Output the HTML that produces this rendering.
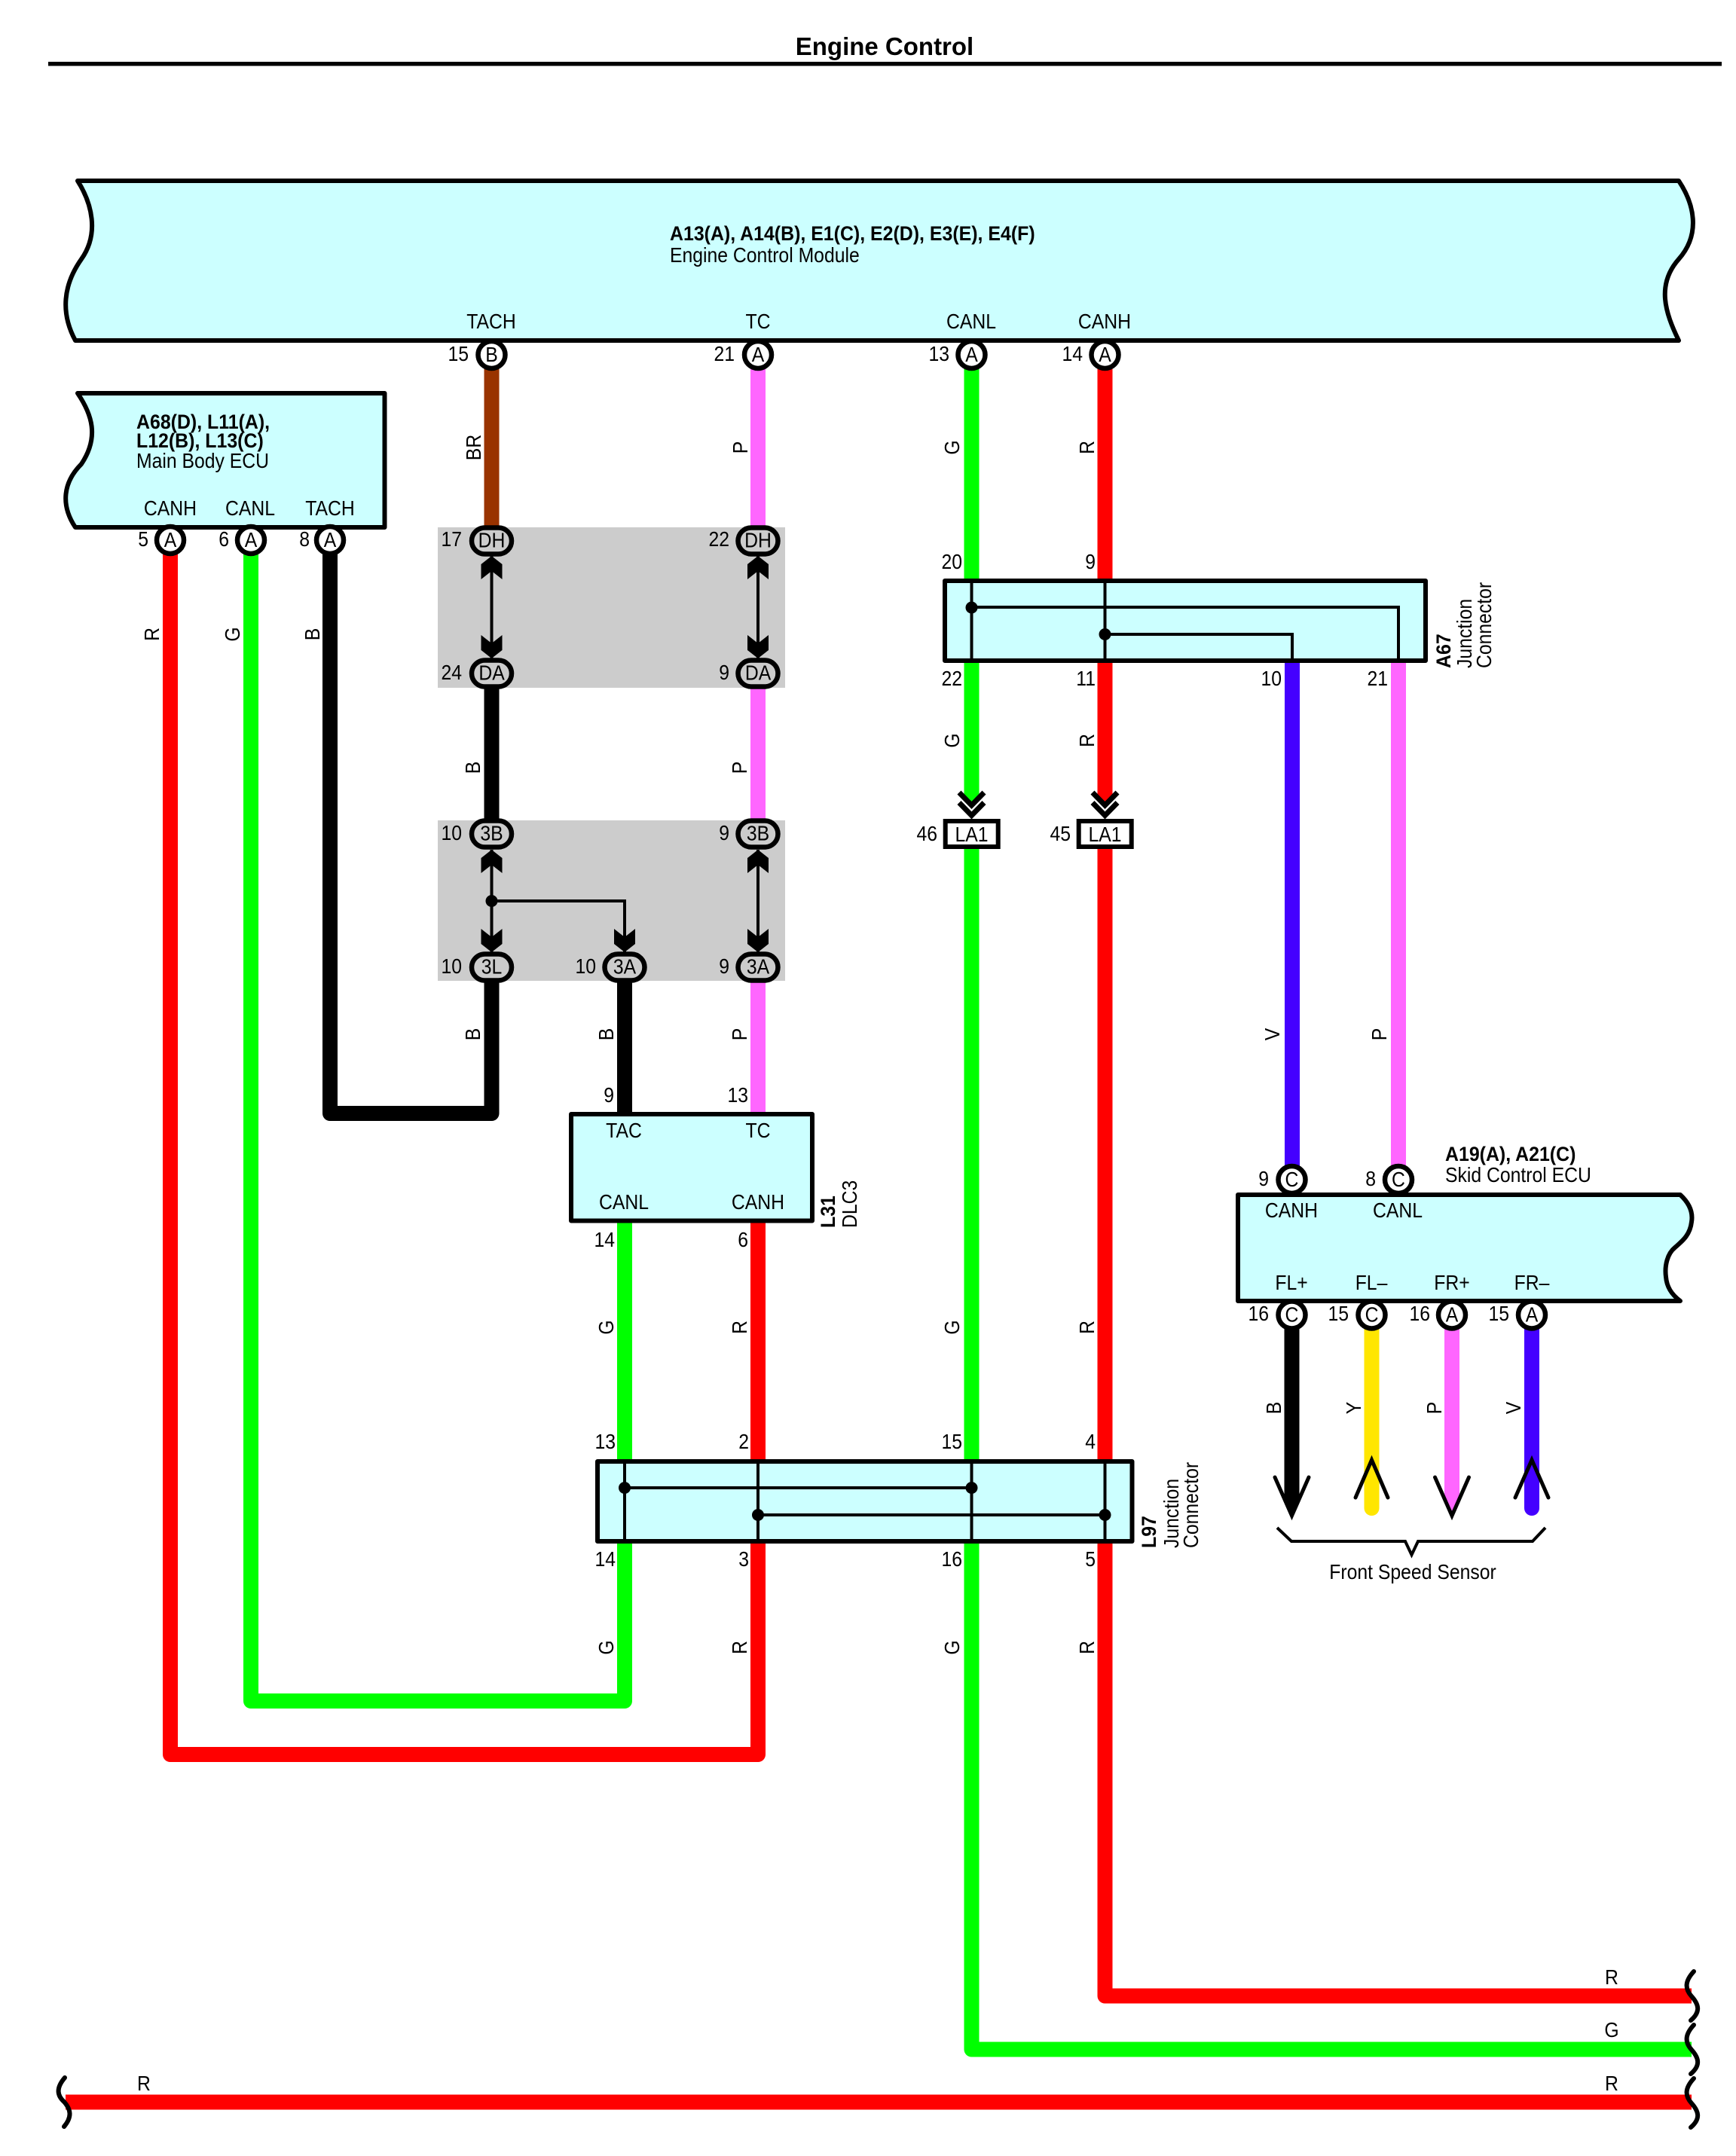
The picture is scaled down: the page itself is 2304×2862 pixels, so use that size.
<!DOCTYPE html>
<html lang="en">
<head>
<meta charset="utf-8">
<title>Engine Control</title>
<style>
html,body{margin:0;padding:0;background:#fff;}
svg{display:block;}
text{font-family:"Liberation Sans",sans-serif;font-size:27.5px;fill:#000;transform-box:fill-box;transform-origin:0 50%;transform:scaleX(.9);}
.b{font-weight:bold;font-size:26.5px;transform:scaleX(.94);}
.e{text-anchor:end;transform-origin:100% 50%;}
.m{text-anchor:middle;transform-origin:50% 50%;}
.w{fill:none;stroke-width:20;stroke-linejoin:round;}
.box{fill:#ccffff;stroke:#000;stroke-width:6;stroke-linejoin:round;}
.t{fill:none;stroke:#000;stroke-width:4;}
.c{fill:#fff;stroke:#000;stroke-width:6.5;}
.o{fill:#ccc;stroke:#000;stroke-width:6.5;}
.ch{fill:none;stroke:#000;stroke-width:7;}
.wv{fill:none;stroke:#000;stroke-width:6;stroke-linecap:round;}
</style>
</head>
<body>
<svg xmlns="http://www.w3.org/2000/svg" width="2304" height="2862" viewBox="0 0 2304 2862">
<rect width="2304" height="2862" fill="#fff"/>

<!-- title -->
<text class="b m" x="1174" y="73" style="font-size:33px;transform:none">Engine Control</text>
<rect x="64" y="82" width="2221" height="5.5" fill="#000"/>

<!-- grey areas -->
<rect x="581" y="700" width="461" height="213" fill="#ccc"/>
<rect x="581" y="1089" width="461" height="213" fill="#ccc"/>

<!-- wires -->
<path class="w" stroke="#993300" d="M652.5 471V717"/>
<path class="w" stroke="#ff66ff" d="M1006 471V717"/>
<path class="w" stroke="#000" d="M652.5 894V1107"/>
<path class="w" stroke="#ff66ff" d="M1006 894V1107"/>
<path class="w" stroke="#ff66ff" d="M1006 1284V1482"/>
<path class="w" stroke="#000" d="M829 1284V1482"/>
<path class="w" stroke="#000" d="M438 717V1478H652.5V1284"/>
<path class="w" stroke="#ff0000" d="M1006 1600V2329H226V717"/>
<path class="w" stroke="#00ff00" d="M829 1600V2258H333V717"/>
<path class="w" stroke="#00ff00" d="M1289.5 471V1050"/>
<path class="w" stroke="#ff0000" d="M1466.5 471V1050"/>
<polygon fill="#00ff00" points="1279.5,1049 1299.5,1049 1299.5,1056 1289.5,1066 1279.5,1056"/>
<polygon fill="#ff0000" points="1456.5,1049 1476.5,1049 1476.5,1056 1466.5,1066 1456.5,1056"/>
<path class="w" stroke="#00ff00" d="M1289.5 1108V2720.5H2245"/>
<path class="w" stroke="#ff0000" d="M1466.5 1108V2649.5H2245"/>
<path class="w" stroke="#ff0000" d="M87 2790.5H2245"/>
<path class="w" stroke="#4400ff" d="M1715 870V1566"/>
<path class="w" stroke="#ff66ff" d="M1856 870V1566"/>

<!-- sensor wires -->
<polygon fill="#000" points="1704.5,1745 1724.5,1745 1724.5,1989 1714.5,2012 1704.5,1989"/>
<polygon fill="#ff66ff" points="1917,1745 1937,1745 1937,1989 1927,2012 1917,1989"/>
<path class="w" stroke="#ffe600" stroke-linecap="round" d="M1820.5 1745V2002"/>
<path class="w" stroke="#4400ff" stroke-linecap="round" d="M2033 1745V2002"/>
<polyline class="ch" stroke-linecap="round" style="stroke-width:5" points="1692,1961 1714.5,2012 1737,1961"/>
<polyline class="ch" stroke-linecap="round" style="stroke-width:5" points="1904.5,1961 1927,2012 1949.5,1961"/>
<polyline class="ch" stroke-linecap="round" style="stroke-width:5" points="1799,1988 1820.5,1938 1842,1988"/>
<polyline class="ch" stroke-linecap="round" style="stroke-width:5" points="2011,1988 2033,1938 2055,1988"/>
<polyline class="t" points="1695,2028 1714,2046 1865,2046 1873.5,2064 1882,2046 2034,2046 2051,2028"/>
<text class="m" x="1875" y="2096">Front Speed Sensor</text>

<!-- ECM -->
<path class="box" d="M103 240H2228C2248 270 2258 310 2228 344C2198 378 2210 415 2228 452H100C80 415 84 378 108 344C132 310 122 270 103 240Z"/>
<text class="b" x="889" y="319">A13(A), A14(B), E1(C), E2(D), E3(E), E4(F)</text>
<text x="889" y="348">Engine Control Module</text>
<text class="m" x="652" y="436">TACH</text>
<text class="m" x="1006" y="436">TC</text>
<text class="m" x="1289" y="436">CANL</text>
<text class="m" x="1466" y="436">CANH</text>

<!-- Main Body ECU -->
<path class="box" d="M103 522H510.5V700H100C80 670 84 640 108 616C132 580 122 550 103 522Z"/>
<text class="b" x="181" y="569">A68(D), L11(A),</text>
<text class="b" x="181" y="594">L12(B), L13(C)</text>
<text x="181" y="621">Main Body ECU</text>
<text class="m" x="226" y="684">CANH</text>
<text class="m" x="332" y="684">CANL</text>
<text class="m" x="438" y="684">TACH</text>

<!-- ECM pins -->
<circle class="c" cx="652.5" cy="471" r="18"/><text class="m" x="652.5" y="480">B</text>
<circle class="c" cx="1006" cy="471" r="18"/><text class="m" x="1006" y="480">A</text>
<circle class="c" cx="1289.5" cy="471" r="18"/><text class="m" x="1289.5" y="480">A</text>
<circle class="c" cx="1466.5" cy="471" r="18"/><text class="m" x="1466.5" y="480">A</text>
<text class="e" x="622" y="479">15</text>
<text class="e" x="975" y="479">21</text>
<text class="e" x="1260" y="479">13</text>
<text class="e" x="1437" y="479">14</text>

<!-- Main Body pins -->
<circle class="c" cx="226" cy="717" r="18"/><text class="m" x="226" y="726">A</text>
<circle class="c" cx="333" cy="717" r="18"/><text class="m" x="333" y="726">A</text>
<circle class="c" cx="438" cy="717" r="18"/><text class="m" x="438" y="726">A</text>
<text class="e" x="197" y="725">5</text>
<text class="e" x="304" y="725">6</text>
<text class="e" x="411" y="725">8</text>

<!-- grey block 1 -->
<line x1="652.5" y1="738" x2="652.5" y2="874" stroke="#000" stroke-width="4"/>
<line x1="1006" y1="738" x2="1006" y2="874" stroke="#000" stroke-width="4"/>
<polygon points="652.5,738 666.5,749 666.5,769 652.5,758 638.5,769 638.5,749"/>
<polygon points="1006,738 1020,749 1020,769 1006,758 992,769 992,749"/>
<polygon points="652.5,874 666.5,863 666.5,843 652.5,854 638.5,843 638.5,863"/>
<polygon points="1006,874 1020,863 1020,843 1006,854 992,843 992,863"/>
<rect class="o" x="626" y="700.5" width="53" height="35" rx="17.5"/><text class="m" x="652.5" y="726.5">DH</text>
<rect class="o" x="979.5" y="700.5" width="53" height="35" rx="17.5"/><text class="m" x="1006" y="726.5">DH</text>
<rect class="o" x="626" y="876.5" width="53" height="35" rx="17.5"/><text class="m" x="652.5" y="902.5">DA</text>
<rect class="o" x="979.5" y="876.5" width="53" height="35" rx="17.5"/><text class="m" x="1006" y="902.5">DA</text>
<text class="e" x="613" y="725">17</text>
<text class="e" x="968" y="725">22</text>
<text class="e" x="613" y="902">24</text>
<text class="e" x="968" y="902">9</text>

<!-- grey block 2 -->
<line x1="652.5" y1="1128" x2="652.5" y2="1264" stroke="#000" stroke-width="4"/>
<line x1="1006" y1="1128" x2="1006" y2="1264" stroke="#000" stroke-width="4"/>
<polyline class="t" points="652.5,1196 829,1196 829,1264"/>
<circle cx="652.5" cy="1196" r="8"/>
<polygon points="652.5,1128 666.5,1139 666.5,1159 652.5,1148 638.5,1159 638.5,1139"/>
<polygon points="1006,1128 1020,1139 1020,1159 1006,1148 992,1159 992,1139"/>
<polygon points="652.5,1264 666.5,1253 666.5,1233 652.5,1244 638.5,1233 638.5,1253"/>
<polygon points="829,1264 843,1253 843,1233 829,1244 815,1233 815,1253"/>
<polygon points="1006,1264 1020,1253 1020,1233 1006,1244 992,1233 992,1253"/>
<rect class="o" x="626" y="1089.5" width="53" height="35" rx="17.5"/><text class="m" x="652.5" y="1115.5">3B</text>
<rect class="o" x="979.5" y="1089.5" width="53" height="35" rx="17.5"/><text class="m" x="1006" y="1115.5">3B</text>
<rect class="o" x="626" y="1266.5" width="53" height="35" rx="17.5"/><text class="m" x="652.5" y="1292.5">3L</text>
<rect class="o" x="802.5" y="1266.5" width="53" height="35" rx="17.5"/><text class="m" x="829" y="1292.5">3A</text>
<rect class="o" x="979.5" y="1266.5" width="53" height="35" rx="17.5"/><text class="m" x="1006" y="1292.5">3A</text>
<text class="e" x="613" y="1115">10</text>
<text class="e" x="968" y="1115">9</text>
<text class="e" x="613" y="1292">10</text>
<text class="e" x="791" y="1292">10</text>
<text class="e" x="968" y="1292">9</text>

<!-- A67 junction -->
<rect class="box" x="1254" y="771" width="638" height="106"/>
<line class="t" x1="1289.5" y1="771" x2="1289.5" y2="877"/>
<line class="t" x1="1466.5" y1="771" x2="1466.5" y2="877"/>
<polyline class="t" points="1289.5,806 1856,806 1856,877"/>
<polyline class="t" points="1466.5,842 1715,842 1715,877"/>
<circle cx="1289.5" cy="806.5" r="8"/>
<circle cx="1466.5" cy="842" r="8"/>
<text class="e" x="1277" y="755">20</text>
<text class="e" x="1454" y="755">9</text>
<text class="e" x="1277" y="910">22</text>
<text class="e" x="1454" y="910">11</text>
<text class="e" x="1701" y="910">10</text>
<text class="e" x="1842" y="910">21</text>
<g transform="translate(1925,887) rotate(-90)"><text class="b">A67</text></g>
<g transform="translate(1953,887) rotate(-90)"><text>Junction</text></g>
<g transform="translate(1979,887) rotate(-90)"><text>Connector</text></g>

<!-- chevrons -->
<polyline class="ch" points="1273,1052 1289.5,1069 1306,1052"/>
<polyline class="ch" points="1273,1065.5 1289.5,1082.5 1306,1065.5"/>
<polyline class="ch" points="1450,1052 1466.5,1069 1483,1052"/>
<polyline class="ch" points="1450,1065.5 1466.5,1082.5 1483,1065.5"/>

<!-- LA1 -->
<rect x="1254.7" y="1090" width="70" height="34" fill="#fff" stroke="#000" stroke-width="6"/>
<rect x="1431.7" y="1090" width="70" height="34" fill="#fff" stroke="#000" stroke-width="6"/>
<text class="m" x="1289.5" y="1117">LA1</text>
<text class="m" x="1466.5" y="1117">LA1</text>
<text class="e" x="1244" y="1116">46</text>
<text class="e" x="1421" y="1116">45</text>

<!-- DLC3 -->
<rect class="box" x="758" y="1479" width="320" height="141.5"/>
<text class="m" x="828" y="1510">TAC</text>
<text class="m" x="1006" y="1510">TC</text>
<text class="m" x="828" y="1605">CANL</text>
<text class="m" x="1006" y="1605">CANH</text>
<text class="e" x="815" y="1463">9</text>
<text class="e" x="993" y="1463">13</text>
<text class="e" x="816" y="1655">14</text>
<text class="e" x="993" y="1655">6</text>
<g transform="translate(1108,1630) rotate(-90)"><text class="b">L31</text></g>
<g transform="translate(1137,1630) rotate(-90)"><text>DLC3</text></g>

<!-- L97 junction -->
<rect class="box" x="793" y="1940" width="709.5" height="106"/>
<line class="t" x1="829" y1="1940" x2="829" y2="2046"/>
<line class="t" x1="1006" y1="1940" x2="1006" y2="2046"/>
<line class="t" x1="1289.5" y1="1940" x2="1289.5" y2="2046"/>
<line class="t" x1="1466.5" y1="1940" x2="1466.5" y2="2046"/>
<line class="t" x1="829" y1="1975" x2="1289.5" y2="1975"/>
<line class="t" x1="1006" y1="2011" x2="1466.5" y2="2011"/>
<circle cx="829" cy="1975" r="8"/><circle cx="1289.5" cy="1975" r="8"/>
<circle cx="1006" cy="2011" r="8"/><circle cx="1466.5" cy="2011" r="8"/>
<text class="e" x="817" y="1923">13</text>
<text class="e" x="994" y="1923">2</text>
<text class="e" x="1277" y="1923">15</text>
<text class="e" x="1454" y="1923">4</text>
<text class="e" x="817" y="2079">14</text>
<text class="e" x="994" y="2079">3</text>
<text class="e" x="1277" y="2079">16</text>
<text class="e" x="1454" y="2079">5</text>
<g transform="translate(1534,2055) rotate(-90)"><text class="b">L97</text></g>
<g transform="translate(1564,2055) rotate(-90)"><text>Junction</text></g>
<g transform="translate(1590,2055) rotate(-90)"><text>Connector</text></g>

<!-- Skid control -->
<path class="box" d="M1643 1586H2230C2243 1598 2247 1610 2245 1622C2243 1640 2232 1648 2223 1656C2213 1664 2209 1680 2211 1695C2212 1708 2218 1718 2230 1727H1643Z"/>
<text class="b" x="1918" y="1541">A19(A), A21(C)</text>
<text x="1918" y="1569">Skid Control ECU</text>
<text class="m" x="1714" y="1616">CANH</text>
<text class="m" x="1855" y="1616">CANL</text>
<text class="m" x="1714" y="1712">FL+</text>
<text class="m" x="1820" y="1712">FL–</text>
<text class="m" x="1927" y="1712">FR+</text>
<text class="m" x="2033" y="1712">FR–</text>
<circle class="c" cx="1714.5" cy="1566" r="18"/><text class="m" x="1714.5" y="1575">C</text>
<circle class="c" cx="1856" cy="1566" r="18"/><text class="m" x="1856" y="1575">C</text>
<circle class="c" cx="1714.5" cy="1745.5" r="18"/><text class="m" x="1714.5" y="1754.5">C</text>
<circle class="c" cx="1820.5" cy="1745.5" r="18"/><text class="m" x="1820.5" y="1754.5">C</text>
<circle class="c" cx="1927" cy="1745.5" r="18"/><text class="m" x="1927" y="1754.5">A</text>
<circle class="c" cx="2033" cy="1745.5" r="18"/><text class="m" x="2033" y="1754.5">A</text>
<text class="e" x="1684" y="1574">9</text>
<text class="e" x="1826" y="1574">8</text>
<text class="e" x="1684" y="1753">16</text>
<text class="e" x="1790" y="1753">15</text>
<text class="e" x="1898" y="1753">16</text>
<text class="e" x="2003" y="1753">15</text>

<!-- wire colour labels -->
<g transform="translate(638,594) rotate(-90)"><text class="m">BR</text></g>
<g transform="translate(992,594) rotate(-90)"><text class="m">P</text></g>
<g transform="translate(1273,594) rotate(-90)"><text class="m">G</text></g>
<g transform="translate(1452,594) rotate(-90)"><text class="m">R</text></g>
<g transform="translate(211,842) rotate(-90)"><text class="m">R</text></g>
<g transform="translate(318,842) rotate(-90)"><text class="m">G</text></g>
<g transform="translate(424,842) rotate(-90)"><text class="m">B</text></g>
<g transform="translate(637,1019) rotate(-90)"><text class="m">B</text></g>
<g transform="translate(991,1019) rotate(-90)"><text class="m">P</text></g>
<g transform="translate(1273,983) rotate(-90)"><text class="m">G</text></g>
<g transform="translate(1452,983) rotate(-90)"><text class="m">R</text></g>
<g transform="translate(637,1373) rotate(-90)"><text class="m">B</text></g>
<g transform="translate(814,1373) rotate(-90)"><text class="m">B</text></g>
<g transform="translate(991,1373) rotate(-90)"><text class="m">P</text></g>
<g transform="translate(1698,1373) rotate(-90)"><text class="m">V</text></g>
<g transform="translate(1840,1373) rotate(-90)"><text class="m">P</text></g>
<g transform="translate(814,1762) rotate(-90)"><text class="m">G</text></g>
<g transform="translate(991,1762) rotate(-90)"><text class="m">R</text></g>
<g transform="translate(1273,1762) rotate(-90)"><text class="m">G</text></g>
<g transform="translate(1452,1762) rotate(-90)"><text class="m">R</text></g>
<g transform="translate(814,2187) rotate(-90)"><text class="m">G</text></g>
<g transform="translate(991,2187) rotate(-90)"><text class="m">R</text></g>
<g transform="translate(1273,2187) rotate(-90)"><text class="m">G</text></g>
<g transform="translate(1452,2187) rotate(-90)"><text class="m">R</text></g>
<g transform="translate(1700,1869) rotate(-90)"><text class="m">B</text></g>
<g transform="translate(1806,1869) rotate(-90)"><text class="m">Y</text></g>
<g transform="translate(1913,1869) rotate(-90)"><text class="m">P</text></g>
<g transform="translate(2018,1869) rotate(-90)"><text class="m">V</text></g>

<!-- breaks -->
<path class="wv" d="M2248 2617C2236 2630 2236 2640 2245 2650C2254 2660 2258 2670 2244 2682"/>
<path class="wv" d="M2248 2688C2236 2701 2236 2711 2245 2721C2254 2731 2258 2741 2244 2753"/>
<path class="wv" d="M2248 2759C2236 2772 2236 2782 2245 2792C2254 2802 2258 2812 2244 2824"/>
<path class="wv" d="M86 2758C74 2772 76 2782 85 2790C94 2800 96 2810 85 2823"/>
<text class="m" x="2139" y="2634">R</text>
<text class="m" x="2139" y="2704">G</text>
<text class="m" x="2139" y="2775">R</text>
<text class="m" x="191" y="2775">R</text>
</svg>
</body>
</html>
